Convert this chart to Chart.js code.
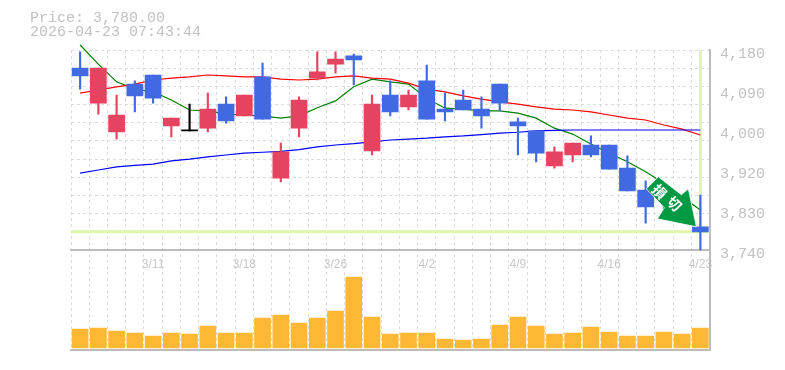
<!DOCTYPE html>
<html>
<head>
<meta charset="utf-8">
<style>html,body{margin:0;padding:0;background:#fff}canvas{display:block}</style>
<script src="https://cdn.jsdelivr.net/npm/chart.js@4/dist/chart.umd.min.js"></script>
</head>
<body>
<canvas id="c" width="785" height="370" style="width:785px;height:370px"></canvas>
<script>
const titleLines = ['Price: 3,780.00', '2026-04-23 07:43:44'];
const dates = ['3/5','3/6','3/9','3/10','3/11','3/12','3/13','3/16','3/17','3/18','3/19','3/23','3/24','3/25','3/26','3/27','3/30','3/31','4/1','4/2','4/3','4/6','4/7','4/8','4/9','4/10','4/13','4/14','4/15','4/16','4/17','4/20','4/21','4/22','4/23'];
const shownDates = ['3/11','3/18','3/26','4/2','4/9','4/16','4/23'];
const open  = [4140,4063,4000,4105,4125,4013,4002,4008,4061,4035,4121,3898,4008,4118,4149,4167,3958,4081,4055,4112,4050,4070,4050,4105,4022,4002,3925,3949,3971,3971,3920,3872,3872,3850,3791];
const close = [4123,4140,4037,4079,4074,4030,4002,4050,4024,4081,4028,3956,4070,4132,4160,4158,4061,4044,4081,4028,4044,4048,4035,4063,4013,3953,3956,3975,3949,3918,3870,3835,3854,3810,3780];
const high  = [4176,4140,4081,4112,4125,4030,4061,4085,4077,4081,4151,3975,4077,4176,4176,4171,4081,4112,4092,4147,4085,4092,4077,4105,4030,4002,3967,3975,3991,3971,3947,3892,3881,3857,3861];
const low   = [4094,4039,3984,4044,4063,3989,4002,4000,4019,4035,4028,3890,3989,4114,4129,4103,3949,4035,4048,4028,4024,4048,4008,4046,3949,3934,3920,3934,3945,3918,3870,3799,3810,3806,3740];
const maShort = [4191,4149,4110,4094,4088,4070,4048,4046,4039,4037,4035,4030,4035,4053,4068,4099,4116,4110,4105,4074,4052,4050,4046,4046,4041,4030,4008,3995,3973,3953,3934,3912,3887,3857,3828];
const maMid   = [4085,4092,4099,4105,4114,4118,4121,4125,4123,4121,4121,4116,4114,4116,4121,4123,4118,4116,4107,4094,4088,4079,4072,4066,4061,4055,4050,4048,4044,4037,4030,4026,4015,4006,3993];
const maLong  = [3909,3916,3923,3926,3929,3936,3940,3945,3949,3953,3955,3957,3961,3967,3971,3974,3978,3982,3984,3986,3989,3991,3994,3997,3999,4002,4003,4004,4004,4004,4004,4004,4004,4004,4004];
const volume  = [19,20,17,15,12,15,14,22,15,15,30,33,25,30,37,71,31,14,15,15,9,8,9,23,31,22,14,15,21,16,12,12,16,14,20];
const gridPrices = [4180,4140,4100,4060,4020,3980,3940,3900,3860,3820,3780,3740];
const tickPrices = [4180,4092,4004,3916,3828,3740];
const tickLabels = ['4,180','4,090','4,000','3,920','3,830','3,740'];
const currentPrice = 3780;
const badgeText = ['損','切'];

const RED='#e5435f', BLUE='#4169e1', BLACK='#000000';
const candleColor = open.map((o,i)=> close[i]>o ? RED : close[i]<o ? BLUE : BLACK);
const GREY='#bdbdbd', GRID='#dcdcdc', TXT='#c2c2c2', HL='#e2f5a8';

const markers = {
  id:'markers',
  beforeDatasetsDraw(chart){
    const {ctx,chartArea:a,scales:{x,y}} = chart;
    const px = x.getPixelForValue(dates.length-1), py = y.getPixelForValue(currentPrice);
    ctx.save();
    ctx.strokeStyle=HL; ctx.lineWidth=3;
    ctx.beginPath(); ctx.moveTo(a.left,py); ctx.lineTo(a.right,py);
    ctx.moveTo(px,a.top); ctx.lineTo(px,py); ctx.stroke();
    ctx.restore();
  },
  afterDatasetsDraw(chart){
    const {ctx,scales:{x,y}} = chart;
    const n = dates.length-1;
    const tx = x.getPixelForValue(n)-4, ty = y.getPixelForValue(open[n]);
    const shape = [[-38,-50],[-50,-38],[-32,-19],[-39,-8],[0,0],[-8,-38],[-15,-32]];
    ctx.save();
    ctx.beginPath();
    shape.forEach((p,i)=> i? ctx.lineTo(tx+p[0],ty+p[1]) : ctx.moveTo(tx+p[0],ty+p[1]));
    ctx.closePath();
    ctx.fillStyle='#009944'; ctx.strokeStyle='rgba(255,255,255,.8)'; ctx.lineWidth=1;
    ctx.fill(); ctx.stroke();
    ctx.fillStyle='#fff';
    ctx.font='bold 14px "Noto Sans CJK JP"';
    ctx.textAlign='center'; ctx.textBaseline='middle';
    [[-37,-35],[-22,-23]].forEach((p,i)=>{
      ctx.save(); ctx.translate(tx+p[0],ty+p[1]); ctx.rotate(Math.PI/4);
      ctx.fillText(badgeText[i],0,0); ctx.restore();
    });
    ctx.restore();
  }
};

const lineDs = (data,color)=>({type:'line',data,borderColor:color,borderWidth:1.2,pointRadius:0,tension:0,yAxisID:'y',order:3,clip:false});

new Chart(document.getElementById('c'),{
  type:'bar',
  data:{
    labels:dates,
    datasets:[
      {data:volume,backgroundColor:'#ffb833',barThickness:16,grouped:false,yAxisID:'yVol',order:4},
      lineDs(maLong,'#0000ff'),
      lineDs(maMid,'#ff0000'),
      lineDs(maShort,'#008000'),
      {data:high.map((h,i)=>[low[i],h]),backgroundColor:candleColor,barThickness:1.5,grouped:false,yAxisID:'y',order:2},
      {data:open.map((o,i)=>[o,close[i]]),backgroundColor:candleColor,barThickness:16,grouped:false,minBarLength:1,yAxisID:'y',order:1}
    ]
  },
  options:{
    responsive:false,animation:false,
    layout:{padding:{left:30,right:20,top:11,bottom:20}},
    plugins:{
      legend:{display:false},tooltip:{enabled:false},
      title:{display:true,text:titleLines,align:'start',color:TXT,
        font:{family:'"Liberation Mono"',size:15,weight:'normal',lineHeight:14/15},
        padding:{top:0,bottom:11}}
    },
    scales:{
      x:{type:'category',position:{y:3740},offset:true,
        grid:{display:true,color:GRID,offset:true,drawTicks:false},
        border:{display:true,color:GREY,width:2,dash:[3,3]},
        ticks:{autoSkip:false,maxRotation:0,padding:7,color:'#c8c8c8',font:{family:'"Liberation Sans"',size:12},
          callback(v,i){const d=dates[i];return shownDates.includes(d)?d:'';}}
      },
      x2:{type:'category',axis:'x',position:'bottom',offset:true,
        grid:{display:false,drawTicks:false},border:{display:true,color:GREY,width:2},
        ticks:{display:false},afterFit(s){s.height=0;}
      },
      y:{type:'linear',position:'right',min:3520,max:4180,weight:0,
        grid:{color:GRID,drawTicks:false},border:{display:true,color:GREY,width:2,dash:[3,3]},
        ticks:{display:false},
        afterBuildTicks(s){s.ticks=gridPrices.map(value=>({value}));},
        afterFit(s){s.width=0;}
      },
      yLab:{type:'linear',axis:'y',position:'right',min:3520,max:4180,weight:1,
        grid:{display:false,drawTicks:false},border:{display:false},
        ticks:{autoSkip:false,padding:10.5,labelOffset:4,color:TXT,font:{family:'"Liberation Mono"',size:15},
          callback(v){return tickLabels[tickPrices.indexOf(v)];}},
        afterBuildTicks(s){s.ticks=tickPrices.map(value=>({value}));},
        afterFit(s){s.width=55.5;}
      },
      yVol:{type:'linear',axis:'y',position:'left',min:-2,max:298,
        grid:{display:false,drawTicks:false},border:{display:false},ticks:{display:false},
        afterFit(s){s.width=41;}
      }
    }
  },
  plugins:[markers]
});
</script>
</body>
</html>
